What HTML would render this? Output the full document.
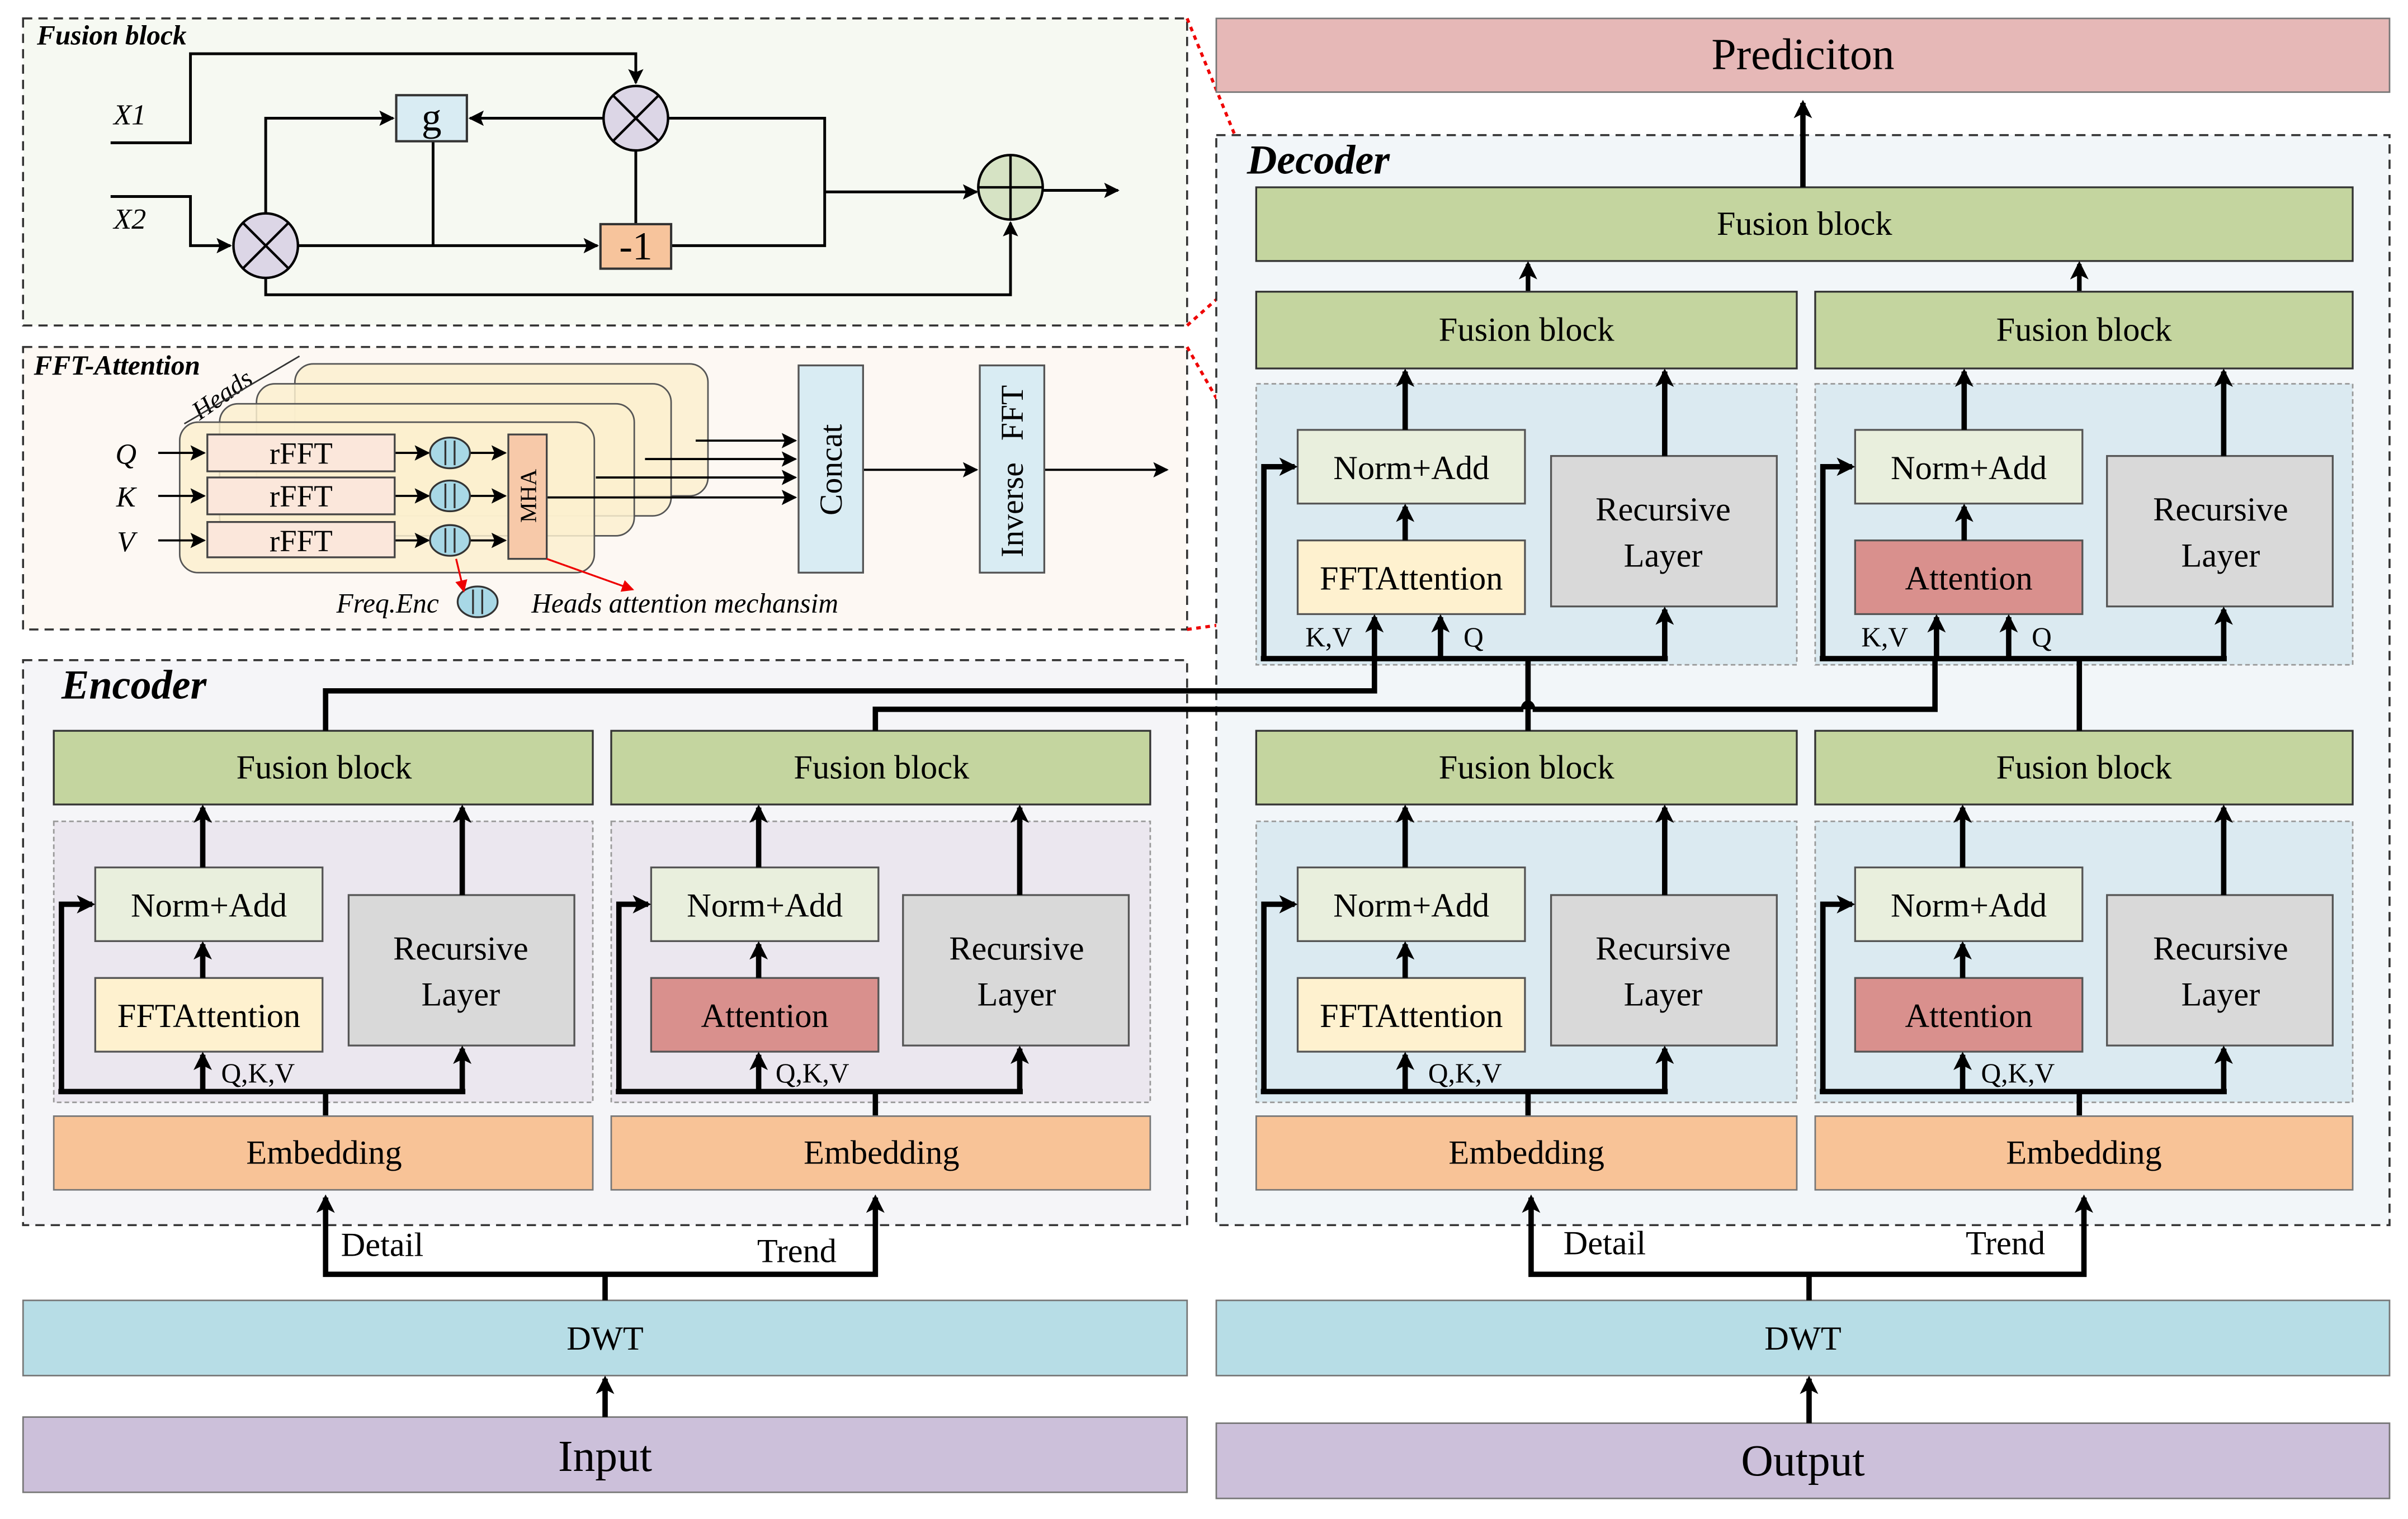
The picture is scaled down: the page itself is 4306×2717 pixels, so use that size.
<!DOCTYPE html>
<html><head><meta charset="utf-8"><style>
html,body{margin:0;padding:0;background:#fff}
svg{display:block}
text{font-family:"Liberation Serif","Times New Roman",serif;fill:#000}
</style></head><body>
<svg width="4306" height="2717" viewBox="0 0 1568 989.4" xmlns="http://www.w3.org/2000/svg" font-family="Liberation Serif, serif">
<defs>
<marker id="a" markerWidth="12" markerHeight="12" refX="10" refY="6" orient="auto" markerUnits="userSpaceOnUse"><path d="M0,0 L12,6 L0,12 L3,6 Z" fill="#000"/></marker>
<marker id="s" markerWidth="10" markerHeight="10" refX="9" refY="5" orient="auto" markerUnits="userSpaceOnUse"><path d="M0,0 L10,5 L0,10 L2,5 Z" fill="#000"/></marker>
<marker id="r" markerWidth="8" markerHeight="8" refX="7" refY="4" orient="auto" markerUnits="userSpaceOnUse"><path d="M0,0 L8,4 L0,8 Z" fill="#e00"/></marker>
</defs>
<rect width="1568" height="989.4" fill="#fff"/>

<!-- Fusion block panel -->
<rect x="15" y="12" width="758" height="200" fill="#f6f9f2" stroke="#333" stroke-width="1.3" stroke-dasharray="6,4"/>
<text x="24" y="29" font-size="18" font-weight="bold" font-style="italic">Fusion block</text>
<g stroke="#000" stroke-width="1.8" fill="none">
<polyline points="72,93 124,93 124,35 414,35 414,54" marker-end="url(#s)"/>
<polyline points="72,128 124,128 124,160 150,160" marker-end="url(#s)"/>
<polyline points="173,139 173,77 256,77" marker-end="url(#s)"/>
<line x1="393" y1="77" x2="306" y2="77" marker-end="url(#s)"/>
<line x1="194" y1="160" x2="389" y2="160" marker-end="url(#s)"/>
<line x1="282" y1="92" x2="282" y2="160"/>
<line x1="414" y1="98" x2="414" y2="146"/>
<polyline points="435,77 537,77 537,160 437,160"/>
<line x1="537" y1="125" x2="636" y2="125" marker-end="url(#s)"/>
<line x1="679" y1="124" x2="728" y2="124" marker-end="url(#s)"/>
<polyline points="173,181 173,192 658,192 658,145" marker-end="url(#s)"/>
</g>
<text x="74" y="81" font-size="19" font-style="italic">X1</text>
<text x="74" y="149" font-size="19" font-style="italic">X2</text>
<rect x="258" y="62" width="46" height="30" fill="#d9ecf3" stroke="#333" stroke-width="1.5"/>
<text x="281" y="85" font-size="26" text-anchor="middle">g</text>
<rect x="391" y="146" width="46" height="29" fill="#f7c49c" stroke="#333" stroke-width="1.5"/>
<text x="414" y="169" font-size="26" text-anchor="middle">-1</text>
<g stroke="#000" stroke-width="1.6">
<ellipse cx="414" cy="77" rx="21" ry="21" fill="#dcd6e6"/>
<line x1="399" y1="62" x2="429" y2="92"/><line x1="429" y1="62" x2="399" y2="92"/>
<ellipse cx="173" cy="160" rx="21" ry="21" fill="#dcd6e6"/>
<line x1="158" y1="145" x2="188" y2="175"/><line x1="188" y1="145" x2="158" y2="175"/>
<ellipse cx="658" cy="122" rx="21" ry="21" fill="#d6e3c4"/>
<line x1="637" y1="122" x2="679" y2="122"/><line x1="658" y1="101" x2="658" y2="143"/>
</g>

<!-- FFT attention panel -->
<rect x="15" y="226" width="758" height="184" fill="#fdf8f3" stroke="#333" stroke-width="1.3" stroke-dasharray="6,4"/>
<text x="22" y="244" font-size="18" font-weight="bold" font-style="italic">FFT-Attention</text>
<text x="0" y="0" font-size="17" font-style="italic" transform="translate(130,274) rotate(-35)">Heads</text>
<line x1="120" y1="276" x2="195" y2="232" stroke="#333" stroke-width="1"/>
<g stroke="#555" stroke-width="1" fill="#fcf0cf" fill-opacity="0.85">
<rect x="192" y="237" width="269" height="86" rx="12"/>
<rect x="167" y="250" width="270" height="86" rx="12"/>
<rect x="143" y="263" width="270" height="86" rx="12"/>
<rect x="117" y="275" width="270" height="98" rx="12"/>
</g>
<g stroke="#000" stroke-width="1.4" fill="none">
<line x1="103" y1="295" x2="133" y2="295" marker-end="url(#s)"/>
<line x1="103" y1="323" x2="133" y2="323" marker-end="url(#s)"/>
<line x1="103" y1="352" x2="133" y2="352" marker-end="url(#s)"/>
<line x1="257" y1="295" x2="279" y2="295" marker-end="url(#s)"/>
<line x1="257" y1="323" x2="279" y2="323" marker-end="url(#s)"/>
<line x1="257" y1="352" x2="279" y2="352" marker-end="url(#s)"/>
<line x1="306" y1="295" x2="329" y2="295" marker-end="url(#s)"/>
<line x1="306" y1="323" x2="329" y2="323" marker-end="url(#s)"/>
<line x1="306" y1="352" x2="329" y2="352" marker-end="url(#s)"/>
<line x1="453" y1="287" x2="518" y2="287" marker-end="url(#s)"/>
<line x1="420" y1="299" x2="518" y2="299" marker-end="url(#s)"/>
<line x1="388" y1="311" x2="518" y2="311" marker-end="url(#s)"/>
<line x1="356" y1="324" x2="518" y2="324" marker-end="url(#s)"/>
<line x1="562" y1="306" x2="636" y2="306" marker-end="url(#s)"/>
<line x1="680" y1="306" x2="760" y2="306" marker-end="url(#s)"/>
</g>
<g fill="#fbe7db" stroke="#444" stroke-width="1.2">
<rect x="135" y="283" width="122" height="24"/>
<rect x="135" y="311" width="122" height="24"/>
<rect x="135" y="340" width="122" height="23"/>
</g>
<text x="196" y="302" font-size="20" text-anchor="middle">rFFT</text>
<text x="196" y="330" font-size="20" text-anchor="middle">rFFT</text>
<text x="196" y="359" font-size="20" text-anchor="middle">rFFT</text>
<text x="82" y="302" font-size="19" font-style="italic" text-anchor="middle">Q</text>
<text x="82" y="330" font-size="19" font-style="italic" text-anchor="middle">K</text>
<text x="82" y="359" font-size="19" font-style="italic" text-anchor="middle">V</text>
<g fill="#a8d8e6" stroke="#333" stroke-width="1.2">
<ellipse cx="293" cy="295" rx="13" ry="10"/><ellipse cx="293" cy="323" rx="13" ry="10"/><ellipse cx="293" cy="352" rx="13" ry="10"/>
<ellipse cx="311" cy="392" rx="13" ry="10"/>
</g>
<g stroke="#333" stroke-width="1.2">
<line x1="290" y1="287" x2="290" y2="303"/><line x1="296" y1="287" x2="296" y2="303"/>
<line x1="290" y1="315" x2="290" y2="331"/><line x1="296" y1="315" x2="296" y2="331"/>
<line x1="290" y1="344" x2="290" y2="360"/><line x1="296" y1="344" x2="296" y2="360"/>
<line x1="308" y1="384" x2="308" y2="400"/><line x1="314" y1="384" x2="314" y2="400"/>
</g>
<rect x="331" y="283" width="25" height="81" fill="#f7c9a9" stroke="#444" stroke-width="1.2"/>
<text x="0" y="0" font-size="15" text-anchor="middle" transform="translate(349,323) rotate(-90)">MHA</text>
<rect x="520" y="238" width="42" height="135" fill="#d9ecf3" stroke="#555" stroke-width="1.2"/>
<text x="0" y="0" font-size="21" text-anchor="middle" transform="translate(548,306) rotate(-90)">Concat</text>
<rect x="638" y="238" width="42" height="135" fill="#d9ecf3" stroke="#555" stroke-width="1.2"/>
<text x="0" y="0" font-size="21" transform="translate(666,363) rotate(-90)">Inverse</text>
<text x="0" y="0" font-size="21" transform="translate(666,287) rotate(-90)">FFT</text>
<line x1="297" y1="364" x2="302" y2="385" stroke="#e00" stroke-width="1.2" marker-end="url(#r)"/>
<line x1="356" y1="364" x2="412" y2="384" stroke="#e00" stroke-width="1.2" marker-end="url(#r)"/>
<text x="219" y="399" font-size="18" font-style="italic">Freq.Enc</text>
<text x="346" y="399" font-size="18" font-style="italic">Heads attention mechansim</text>

<!-- red dotted -->
<g stroke="#e00" stroke-width="2" stroke-dasharray="3,3" fill="none">
<line x1="773" y1="12" x2="818" y2="122"/>
<line x1="773" y1="212" x2="818" y2="172"/>
<line x1="773" y1="226" x2="845" y2="352"/>
<line x1="773" y1="410" x2="845" y2="400"/>
</g>

<!-- Prediction -->
<rect x="792" y="12" width="764" height="48" fill="#e6b8b7" stroke="#777" stroke-width="1"/>
<text x="1174" y="45" font-size="29" text-anchor="middle">Prediciton</text>

<!-- Decoder panel -->
<rect x="792" y="88" width="764" height="710" fill="#f2f6f9" stroke="#333" stroke-width="1.3" stroke-dasharray="6,4"/>
<text x="812" y="113" font-size="27" font-weight="bold" font-style="italic">Decoder</text>
<!-- Encoder panel -->
<rect x="15" y="430" width="758" height="368" fill="#f5f5f8" stroke="#333" stroke-width="1.3" stroke-dasharray="6,4"/>
<text x="40" y="455" font-size="27" font-weight="bold" font-style="italic">Encoder</text>

<rect x="818" y="122" width="714" height="48" fill="#c4d59f" stroke="#333" stroke-width="1.2"/>
<text x="1175" y="153" font-size="22" text-anchor="middle">Fusion block</text>
<line x1="1174" y1="122" x2="1174" y2="67" stroke="#000" stroke-width="3.5" marker-end="url(#a)"/>
<line x1="995" y1="190" x2="995" y2="172" stroke="#000" stroke-width="3" marker-end="url(#a)"/>
<line x1="1354" y1="190" x2="1354" y2="172" stroke="#000" stroke-width="3" marker-end="url(#a)"/>

<!-- Decoder top left -->
<g transform="translate(818,190)">
<rect x="0" y="0" width="352" height="50" fill="#c4d59f" stroke="#333" stroke-width="1.2"/>
<text x="176" y="32" font-size="22" text-anchor="middle">Fusion block</text>
<rect x="0" y="60" width="352" height="183" fill="#dbeaf1" stroke="#999" stroke-width="1" stroke-dasharray="3,2"/>
<rect x="27" y="90" width="148" height="48" fill="#e9efdd" stroke="#555" stroke-width="1.2"/>
<text x="101" y="122" font-size="22" text-anchor="middle">Norm+Add</text>
<rect x="27" y="162" width="148" height="48" fill="#fef1cf" stroke="#555" stroke-width="1.2"/>
<text x="101" y="194" font-size="22" text-anchor="middle">FFTAttention</text>
<rect x="192" y="107" width="147" height="98" fill="#d9d9d9" stroke="#555" stroke-width="1.2"/>
<text x="265" y="149" font-size="22" text-anchor="middle">Recursive</text>
<text x="265" y="179" font-size="22" text-anchor="middle">Layer</text>
<g stroke="#000" stroke-width="3.5" fill="none">
<line x1="97" y1="90" x2="97" y2="52" marker-end="url(#a)"/>
<line x1="266" y1="107" x2="266" y2="52" marker-end="url(#a)"/>
<line x1="97" y1="162" x2="97" y2="140" marker-end="url(#a)"/>
<polyline points="5,239 5,114 25,114" marker-end="url(#a)"/>
<line x1="3" y1="239" x2="268" y2="239"/>
<line x1="77" y1="239" x2="77" y2="212" marker-end="url(#a)"/>
<line x1="120" y1="239" x2="120" y2="212" marker-end="url(#a)"/>
<line x1="266" y1="239" x2="266" y2="207" marker-end="url(#a)"/>
</g>
<text x="32" y="231" font-size="18">K,V</text>
<text x="135" y="231" font-size="18">Q</text>
</g>
<!-- Decoder top right -->
<g transform="translate(1182,190)">
<rect x="0" y="0" width="350" height="50" fill="#c4d59f" stroke="#333" stroke-width="1.2"/>
<text x="175" y="32" font-size="22" text-anchor="middle">Fusion block</text>
<rect x="0" y="60" width="350" height="183" fill="#dbeaf1" stroke="#999" stroke-width="1" stroke-dasharray="3,2"/>
<rect x="26" y="90" width="148" height="48" fill="#e9efdd" stroke="#555" stroke-width="1.2"/>
<text x="100" y="122" font-size="22" text-anchor="middle">Norm+Add</text>
<rect x="26" y="162" width="148" height="48" fill="#d9908d" stroke="#555" stroke-width="1.2"/>
<text x="100" y="194" font-size="22" text-anchor="middle">Attention</text>
<rect x="190" y="107" width="147" height="98" fill="#d9d9d9" stroke="#555" stroke-width="1.2"/>
<text x="264" y="149" font-size="22" text-anchor="middle">Recursive</text>
<text x="264" y="179" font-size="22" text-anchor="middle">Layer</text>
<g stroke="#000" stroke-width="3.5" fill="none">
<line x1="97" y1="90" x2="97" y2="52" marker-end="url(#a)"/>
<line x1="266" y1="107" x2="266" y2="52" marker-end="url(#a)"/>
<line x1="97" y1="162" x2="97" y2="140" marker-end="url(#a)"/>
<polyline points="5,239 5,114 24,114" marker-end="url(#a)"/>
<line x1="3" y1="239" x2="268" y2="239"/>
<line x1="79" y1="239" x2="79" y2="212" marker-end="url(#a)"/>
<line x1="126" y1="239" x2="126" y2="212" marker-end="url(#a)"/>
<line x1="266" y1="239" x2="266" y2="207" marker-end="url(#a)"/>
</g>
<text x="30" y="231" font-size="18">K,V</text>
<text x="141" y="231" font-size="18">Q</text>
</g>

<!-- Encoder left -->
<g transform="translate(35,476)">
<rect x="0" y="0" width="351" height="48" fill="#c4d59f" stroke="#333" stroke-width="1.2"/>
<text x="176" y="31" font-size="22" text-anchor="middle">Fusion block</text>
<rect x="0" y="59" width="351" height="183" fill="#ebe7ef" stroke="#999" stroke-width="1" stroke-dasharray="3,2"/>
<rect x="27" y="89" width="148" height="48" fill="#e9efdd" stroke="#555" stroke-width="1.2"/>
<text x="101" y="121" font-size="22" text-anchor="middle">Norm+Add</text>
<rect x="27" y="161" width="148" height="48" fill="#fef1cf" stroke="#555" stroke-width="1.2"/>
<text x="101" y="193" font-size="22" text-anchor="middle">FFTAttention</text>
<rect x="192" y="107" width="147" height="98" fill="#d9d9d9" stroke="#555" stroke-width="1.2"/>
<text x="265" y="149" font-size="22" text-anchor="middle">Recursive</text>
<text x="265" y="179" font-size="22" text-anchor="middle">Layer</text>
<g stroke="#000" stroke-width="3.5" fill="none">
<line x1="97" y1="89" x2="97" y2="50" marker-end="url(#a)"/>
<line x1="266" y1="107" x2="266" y2="50" marker-end="url(#a)"/>
<line x1="97" y1="161" x2="97" y2="139" marker-end="url(#a)"/>
<polyline points="5,235 5,113 25,113" marker-end="url(#a)"/>
<line x1="3" y1="235" x2="268" y2="235"/>
<line x1="97" y1="235" x2="97" y2="211" marker-end="url(#a)"/>
<line x1="266" y1="235" x2="266" y2="207" marker-end="url(#a)"/>
<line x1="177" y1="235" x2="177" y2="251"/>
</g>
<text x="109" y="229" font-size="18">Q,K,V</text>
<rect x="0" y="251" width="351" height="48" fill="#f8c397" stroke="#777" stroke-width="1"/>
<text x="176" y="282" font-size="22" text-anchor="middle">Embedding</text>
</g>
<!-- Encoder right -->
<g transform="translate(398,476)">
<rect x="0" y="0" width="351" height="48" fill="#c4d59f" stroke="#333" stroke-width="1.2"/>
<text x="176" y="31" font-size="22" text-anchor="middle">Fusion block</text>
<rect x="0" y="59" width="351" height="183" fill="#ebe7ef" stroke="#999" stroke-width="1" stroke-dasharray="3,2"/>
<rect x="26" y="89" width="148" height="48" fill="#e9efdd" stroke="#555" stroke-width="1.2"/>
<text x="100" y="121" font-size="22" text-anchor="middle">Norm+Add</text>
<rect x="26" y="161" width="148" height="48" fill="#d9908d" stroke="#555" stroke-width="1.2"/>
<text x="100" y="193" font-size="22" text-anchor="middle">Attention</text>
<rect x="190" y="107" width="147" height="98" fill="#d9d9d9" stroke="#555" stroke-width="1.2"/>
<text x="264" y="149" font-size="22" text-anchor="middle">Recursive</text>
<text x="264" y="179" font-size="22" text-anchor="middle">Layer</text>
<g stroke="#000" stroke-width="3.5" fill="none">
<line x1="96" y1="89" x2="96" y2="50" marker-end="url(#a)"/>
<line x1="266" y1="107" x2="266" y2="50" marker-end="url(#a)"/>
<line x1="96" y1="161" x2="96" y2="139" marker-end="url(#a)"/>
<polyline points="5,235 5,113 24,113" marker-end="url(#a)"/>
<line x1="3" y1="235" x2="268" y2="235"/>
<line x1="96" y1="235" x2="96" y2="211" marker-end="url(#a)"/>
<line x1="266" y1="235" x2="266" y2="207" marker-end="url(#a)"/>
<line x1="172" y1="235" x2="172" y2="251"/>
</g>
<text x="107" y="229" font-size="18">Q,K,V</text>
<rect x="0" y="251" width="351" height="48" fill="#f8c397" stroke="#777" stroke-width="1"/>
<text x="176" y="282" font-size="22" text-anchor="middle">Embedding</text>
</g>
<!-- Decoder lower left -->
<g transform="translate(818,476)">
<rect x="0" y="0" width="352" height="48" fill="#c4d59f" stroke="#333" stroke-width="1.2"/>
<text x="176" y="31" font-size="22" text-anchor="middle">Fusion block</text>
<rect x="0" y="59" width="352" height="183" fill="#dbeaf1" stroke="#999" stroke-width="1" stroke-dasharray="3,2"/>
<rect x="27" y="89" width="148" height="48" fill="#e9efdd" stroke="#555" stroke-width="1.2"/>
<text x="101" y="121" font-size="22" text-anchor="middle">Norm+Add</text>
<rect x="27" y="161" width="148" height="48" fill="#fef1cf" stroke="#555" stroke-width="1.2"/>
<text x="101" y="193" font-size="22" text-anchor="middle">FFTAttention</text>
<rect x="192" y="107" width="147" height="98" fill="#d9d9d9" stroke="#555" stroke-width="1.2"/>
<text x="265" y="149" font-size="22" text-anchor="middle">Recursive</text>
<text x="265" y="179" font-size="22" text-anchor="middle">Layer</text>
<g stroke="#000" stroke-width="3.5" fill="none">
<line x1="97" y1="89" x2="97" y2="50" marker-end="url(#a)"/>
<line x1="266" y1="107" x2="266" y2="50" marker-end="url(#a)"/>
<line x1="97" y1="161" x2="97" y2="139" marker-end="url(#a)"/>
<polyline points="5,235 5,113 25,113" marker-end="url(#a)"/>
<line x1="3" y1="235" x2="268" y2="235"/>
<line x1="97" y1="235" x2="97" y2="211" marker-end="url(#a)"/>
<line x1="266" y1="235" x2="266" y2="207" marker-end="url(#a)"/>
<line x1="177" y1="235" x2="177" y2="251"/>
</g>
<text x="112" y="229" font-size="18">Q,K,V</text>
<rect x="0" y="251" width="352" height="48" fill="#f8c397" stroke="#777" stroke-width="1"/>
<text x="176" y="282" font-size="22" text-anchor="middle">Embedding</text>
</g>
<!-- Decoder lower right -->
<g transform="translate(1182,476)">
<rect x="0" y="0" width="350" height="48" fill="#c4d59f" stroke="#333" stroke-width="1.2"/>
<text x="175" y="31" font-size="22" text-anchor="middle">Fusion block</text>
<rect x="0" y="59" width="350" height="183" fill="#dbeaf1" stroke="#999" stroke-width="1" stroke-dasharray="3,2"/>
<rect x="26" y="89" width="148" height="48" fill="#e9efdd" stroke="#555" stroke-width="1.2"/>
<text x="100" y="121" font-size="22" text-anchor="middle">Norm+Add</text>
<rect x="26" y="161" width="148" height="48" fill="#d9908d" stroke="#555" stroke-width="1.2"/>
<text x="100" y="193" font-size="22" text-anchor="middle">Attention</text>
<rect x="190" y="107" width="147" height="98" fill="#d9d9d9" stroke="#555" stroke-width="1.2"/>
<text x="264" y="149" font-size="22" text-anchor="middle">Recursive</text>
<text x="264" y="179" font-size="22" text-anchor="middle">Layer</text>
<g stroke="#000" stroke-width="3.5" fill="none">
<line x1="96" y1="89" x2="96" y2="50" marker-end="url(#a)"/>
<line x1="266" y1="107" x2="266" y2="50" marker-end="url(#a)"/>
<line x1="96" y1="161" x2="96" y2="139" marker-end="url(#a)"/>
<polyline points="5,235 5,113 24,113" marker-end="url(#a)"/>
<line x1="3" y1="235" x2="268" y2="235"/>
<line x1="96" y1="235" x2="96" y2="211" marker-end="url(#a)"/>
<line x1="266" y1="235" x2="266" y2="207" marker-end="url(#a)"/>
<line x1="172" y1="235" x2="172" y2="251"/>
</g>
<text x="108" y="229" font-size="18">Q,K,V</text>
<rect x="0" y="251" width="350" height="48" fill="#f8c397" stroke="#777" stroke-width="1"/>
<text x="175" y="282" font-size="22" text-anchor="middle">Embedding</text>
</g>

<!-- cross connections -->
<g stroke="#000" stroke-width="3.5" fill="none">
<polyline points="212,476 212,450 895,450 895,429"/>
<polyline points="570,476 570,462 992,462"/>
<polyline points="998,462 1260,462 1260,429"/>
<path d="M992,462 a3,4 0 0 1 6,0"/>
<line x1="995" y1="476" x2="995" y2="429"/>
<line x1="1354" y1="476" x2="1354" y2="429"/>
</g>

<!-- DWT / input / output -->
<rect x="15" y="847" width="758" height="49" fill="#b7dde6" stroke="#777" stroke-width="1"/>
<text x="394" y="879" font-size="22" text-anchor="middle">DWT</text>
<rect x="792" y="847" width="764" height="49" fill="#b7dde6" stroke="#777" stroke-width="1"/>
<text x="1174" y="879" font-size="22" text-anchor="middle">DWT</text>
<rect x="15" y="923" width="758" height="49" fill="#ccc0da" stroke="#777" stroke-width="1"/>
<text x="394" y="958" font-size="29" text-anchor="middle">Input</text>
<rect x="792" y="927" width="764" height="49" fill="#ccc0da" stroke="#777" stroke-width="1"/>
<text x="1174" y="961" font-size="29" text-anchor="middle">Output</text>
<g stroke="#000" stroke-width="3.5" fill="none">
<line x1="394" y1="923" x2="394" y2="898" marker-end="url(#a)"/>
<line x1="1178" y1="927" x2="1178" y2="898" marker-end="url(#a)"/>
<polyline points="394,847 394,830 212,830 212,780" marker-end="url(#a)"/>
<polyline points="394,830 570,830 570,780" marker-end="url(#a)"/>
<polyline points="1178,847 1178,830 997,830 997,780" marker-end="url(#a)"/>
<polyline points="1178,830 1357,830 1357,780" marker-end="url(#a)"/>
</g>
<text x="222" y="818" font-size="22">Detail</text>
<text x="493" y="822" font-size="22">Trend</text>
<text x="1018" y="817" font-size="22">Detail</text>
<text x="1280" y="817" font-size="22">Trend</text>
</svg>
</body></html>
